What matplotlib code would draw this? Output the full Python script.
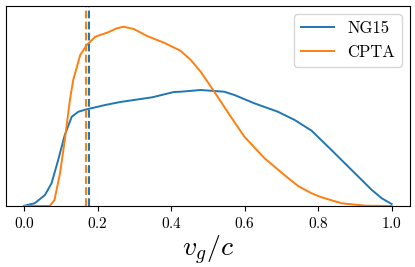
import matplotlib
matplotlib.use("Agg")
import matplotlib.pyplot as plt

plt.rcParams['font.family'] = ['cmr10', 'DejaVu Serif']
plt.rcParams['mathtext.fontset'] = 'cm'
plt.rcParams['axes.formatter.use_mathtext'] = True

ng15_x = [0.0, 0.028, 0.056, 0.074, 0.092, 0.11, 0.129, 0.147, 0.17, 0.22, 0.261, 0.348,
          0.407, 0.426, 0.48, 0.544, 0.572, 0.626, 0.69, 0.736, 0.782, 0.836, 0.891,
          0.946, 0.973, 1.0]
ng15_y = [0.3, 2.7, 11, 22.7, 46, 71, 89.3, 94.3, 96.7, 101, 104, 108.7,
          114, 114.3, 116, 114.3, 111, 102.7, 94.3, 86, 75.3, 56, 36,
          16, 7.7, 2]

cpta_x = [0.0, 0.069, 0.082, 0.097, 0.11, 0.124, 0.133, 0.152, 0.17, 0.193, 0.225, 0.252,
          0.27, 0.298, 0.334, 0.38, 0.425, 0.453, 0.48, 0.517, 0.562, 0.599, 0.654, 0.708,
          0.745, 0.782, 0.809, 0.864, 0.928, 1.0]
cpta_y = [0, 0, 6, 32.7, 66, 106, 126, 151, 161, 169.3, 173.3, 177.7,
          179.3, 177, 170, 163.3, 155.3, 146, 134.3, 114.3, 89.3, 69.3, 47.7, 31,
          20, 12.7, 8.7, 2.7, 0.3, 0]

ng15_median = 0.175
cpta_median = 0.168

fig = plt.figure(figsize=(4.15, 2.67), dpi=100)
ax = fig.add_axes([0.0145, 0.2285, 0.9735, 0.749])
ax.plot(ng15_x, ng15_y, color='C0', lw=1.4, label='NG15')
ax.plot(cpta_x, cpta_y, color='C1', lw=1.4, label='CPTA')
ax.axvline(cpta_median, color='C1', ls='--', lw=1.5)
ax.axvline(ng15_median, color='C0', ls='--', lw=1.5)
ax.set_xlim(-0.05, 1.05)
ax.set_ylim(0, 200)
ax.set_yticks([])
ax.set_xticks([0.0, 0.2, 0.4, 0.6, 0.8, 1.0])
ax.tick_params(axis='x', labelsize=11)
ax.set_xlabel(r'$v_g/c$', fontsize=20, labelpad=2)
ax.legend(loc='upper right', fontsize=12)
fig.savefig('out.png', dpi=100)
